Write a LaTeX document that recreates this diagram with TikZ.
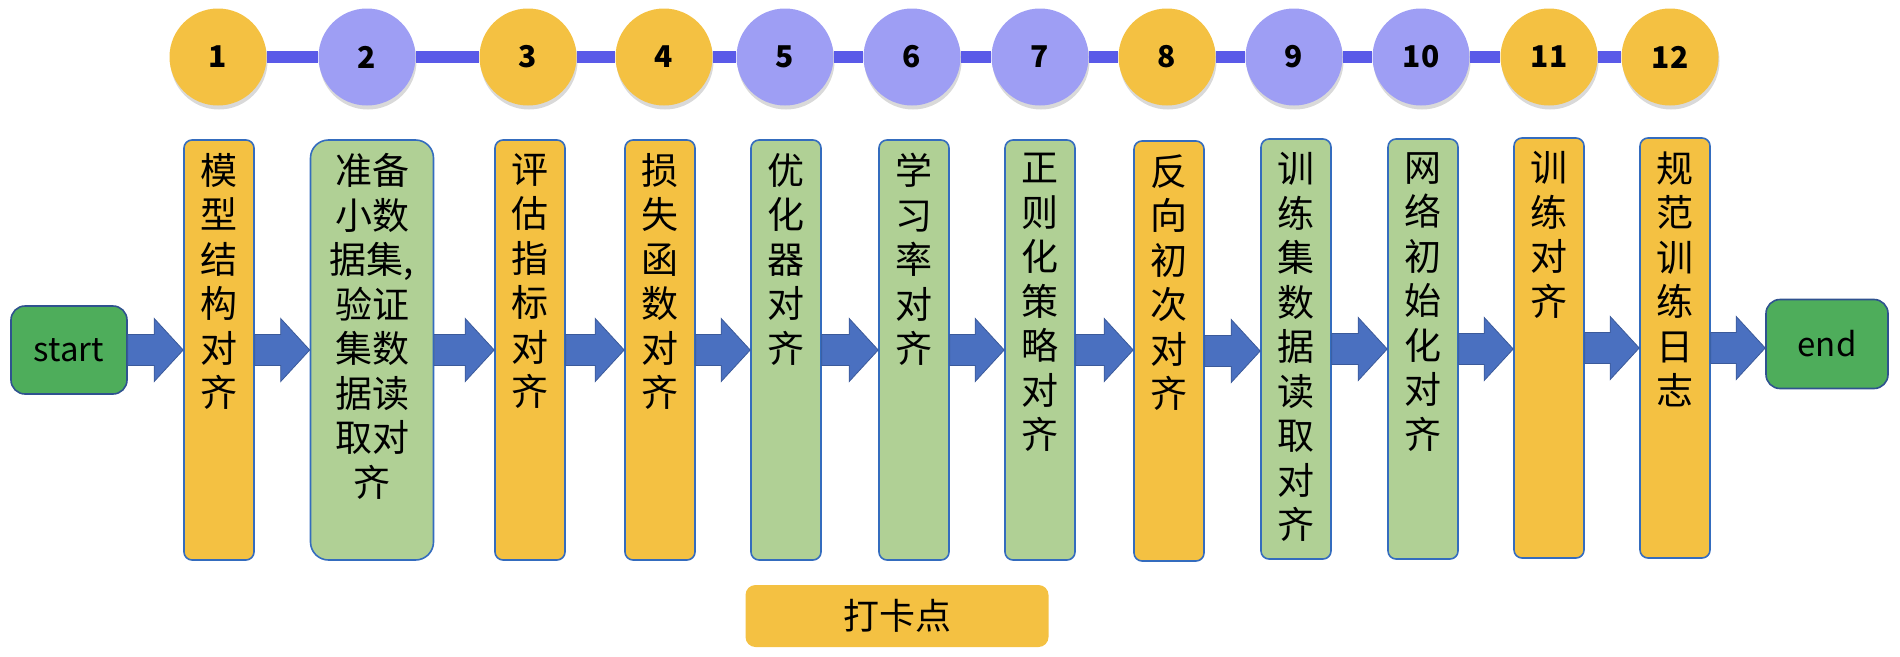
\documentclass[tikz,border=0pt]{standalone}
\usepackage{fontspec}
\newfontfamily\cjk{Noto Sans CJK SC}
\usetikzlibrary{calc,shadows}
\definecolor{stepgold}{RGB}{244,193,66}
\definecolor{stepgreen}{RGB}{176,208,149}
\definecolor{steplilac}{RGB}{158,158,244}
\definecolor{linkblue}{RGB}{90,90,232}
\definecolor{edgeblue}{RGB}{52,108,190}
\definecolor{arrowblue}{RGB}{74,112,192}
\definecolor{navyline}{RGB}{47,82,143}
\definecolor{endgreen}{RGB}{78,173,91}
\tikzset{
 dot/.style={circle,minimum size=97pt,inner sep=0pt,
  font=\cjk\fontsize{30}{30}\selectfont\bfseries,
  drop shadow={shadow xshift=1pt,shadow yshift=-4pt,opacity=.3}},
 golddot/.style={dot,fill=stepgold},
 lilacdot/.style={dot,fill=steplilac},
 stepbox/.style={draw=edgeblue,line width=1.6pt,rounded corners=8pt,
  minimum width=70pt,minimum height=420pt,inner sep=0pt},
 goldbox/.style={stepbox,fill=stepgold},
 greenbox/.style={stepbox,fill=stepgreen},
 boxtext/.style={anchor=north,yshift=-14pt,inner sep=0pt,align=center,
  font=\cjk\fontsize{37}{44.5}\selectfont},
 termbox/.style={draw=navyline,line width=1.6pt,fill=endgreen,rounded corners=14pt,
  minimum width=116pt,minimum height=88pt,font=\cjk\fontsize{33}{33}\selectfont},
 link/.style={linkblue,line width=12pt,line cap=butt},
 fatarrow/.style={fill=arrowblue,draw=arrowblue!80!black,line width=.8pt,line join=miter}
}
% block arrow from the east side of #1 to the west side of #2
\newcommand\blockarrow[2]{%
 \path[fatarrow] let \p1=(#1.east), \p2=(#2.west) in
  (\x1,\y1+15.5pt) -- (\x2-29pt,\y1+15.5pt) -- (\x2-29pt,\y1+31.5pt)
  -- (\x2,\y1) -- (\x2-29pt,\y1-31.5pt) -- (\x2-29pt,\y1-15.5pt)
  -- (\x1,\y1-15.5pt) -- cycle;}

\begin{document}
\begin{tikzpicture}[x=1pt,y=1pt,line cap=round,line join=round]
 \useasboundingbox (0,0) rectangle (1900,-656);
 % check points
 \node[golddot]  (c1)  at (218,-57)  {1};
 \node[lilacdot] (c2)  at (367,-57)  {2};
 \node[golddot]  (c3)  at (528,-57)  {3};
 \node[golddot]  (c4)  at (664,-57)  {4};
 \node[lilacdot] (c5)  at (785,-57)  {5};
 \node[lilacdot] (c6)  at (912,-57)  {6};
 \node[lilacdot] (c7)  at (1040,-57) {7};
 \node[golddot]  (c8)  at (1167,-57) {8};
 \node[lilacdot] (c9)  at (1294,-57) {9};
 \node[lilacdot] (c10) at (1421,-57) {10};
 \node[golddot]  (c11) at (1549,-57) {11};
 \node[golddot]  (c12) at (1670,-57) {12};
 \draw[link] (c1)--(c2) (c2)--(c3) (c3)--(c4) (c4)--(c5) (c5)--(c6)
  (c6)--(c7) (c7)--(c8) (c8)--(c9) (c9)--(c10) (c10)--(c11) (c11)--(c12);
 % steps
 \node[termbox] (start) at (69,-350) {start};
 \node[goldbox,label={[boxtext]north:{模\\型\\结\\构\\对\\齐}}] (b1) at (219,-350) {};
 \node[greenbox,minimum width=123pt,rounded corners=18pt,
  label={[boxtext]north:{准备\\小数\\据集,\\验证\\集数\\据读\\取对\\齐}}] (b2) at (372,-350) {};
 \node[goldbox,label={[boxtext]north:{评\\估\\指\\标\\对\\齐}}] (b3) at (530,-350) {};
 \node[goldbox,label={[boxtext]north:{损\\失\\函\\数\\对\\齐}}] (b4) at (660,-350) {};
 \node[greenbox,label={[boxtext]north:{优\\化\\器\\对\\齐}}] (b5) at (786,-350) {};
 \node[greenbox,label={[boxtext]north:{学\\习\\率\\对\\齐}}] (b6) at (914,-350) {};
 \node[greenbox,label={[boxtext]north:{正\\则\\化\\策\\略\\对\\齐}}] (b7) at (1040,-350) {};
 \node[goldbox,label={[boxtext]north:{反\\向\\初\\次\\对\\齐}}] (b8) at (1169,-351) {};
 \node[greenbox,label={[boxtext]north:{训\\练\\集\\数\\据\\读\\取\\对\\齐}}] (b9) at (1296,-349) {};
 \node[greenbox,label={[boxtext]north:{网\\络\\初\\始\\化\\对\\齐}}] (b10) at (1423,-349) {};
 \node[goldbox,label={[boxtext]north:{训\\练\\对\\齐}}] (b11) at (1549,-348) {};
 \node[goldbox,label={[boxtext]north:{规\\范\\训\\练\\日\\志}}] (b12) at (1675,-348) {};
 \node[termbox,minimum width=122pt,minimum height=89pt] (end) at (1827,-344) {end};
 \blockarrow{start}{b1}
 \blockarrow{b1}{b2}
 \blockarrow{b2}{b3}
 \blockarrow{b3}{b4}
 \blockarrow{b4}{b5}
 \blockarrow{b5}{b6}
 \blockarrow{b6}{b7}
 \blockarrow{b7}{b8}
 \blockarrow{b8}{b9}
 \blockarrow{b9}{b10}
 \blockarrow{b10}{b11}
 \blockarrow{b11}{b12}
 \blockarrow{b12}{end}
 % legend
 \node[fill=stepgold,rounded corners=10pt,minimum width=303pt,minimum height=62pt,
  font=\cjk\fontsize{36}{36}\selectfont] (key) at (897,-616) {打卡点};
\end{tikzpicture}
\end{document}
